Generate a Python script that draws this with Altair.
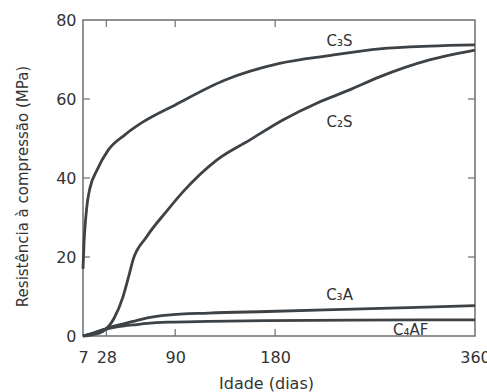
import altair as alt
import pandas as pd

# --- data ---
c3s_days = [7, 8, 9.5, 11, 13.3, 19.6, 29.5, 45, 60, 90, 135, 184, 229, 274, 319, 360]
c3s_vals = [17, 24, 30, 34, 37.5, 42, 47, 51, 54, 58.5, 64.8, 69, 71, 72.7, 73.4, 73.7]

c2s_days = [7, 15, 25, 35, 43, 49, 52, 64, 82, 97, 127.7, 157, 187, 218, 247, 274, 319, 360]
c2s_vals = [0, 0.3, 1.2, 4.5, 9.9, 16, 19.2, 25, 31.5, 36.5, 44.6, 49.6, 54.7, 59, 62.3, 65.6, 69.9, 72.4]

c3a_days = [7, 15, 25, 35, 45, 52, 65, 83, 120, 173, 250, 300, 360]
c3a_vals = [0, 0.6, 1.6, 2.5, 3.2, 3.7, 4.6, 5.3, 5.8, 6.2, 6.8, 7.2, 7.7]

c4af_days = [7, 15, 25, 35, 45, 52, 65, 83, 120, 173, 250, 360]
c4af_vals = [0, 0.6, 1.5, 2.2, 2.6, 2.8, 3.2, 3.5, 3.7, 3.9, 4.0, 4.1]

series_names = ["C3S", "C2S", "C3A", "C4AF"]

label_texts = ["C₃S", "C₂S", "C₃A", "C₄AF"]
label_days = [238, 238, 238, 302]
label_vals = [74.6, 54.2, 10.3, 1.5]

x_ticks = [7, 28, 90, 180, 360]
y_ticks = [0, 20, 40, 60, 80]
x_inner_ticks = [28, 90, 180]
y_inner_ticks = [20, 40, 60]

rows = []
for name, ds, vs in zip(series_names,
                        [c3s_days, c2s_days, c3a_days, c4af_days],
                        [c3s_vals, c2s_vals, c3a_vals, c4af_vals]):
    for d, v in zip(ds, vs):
        rows.append({"serie": name, "dia": d, "valor": v})
df = pd.DataFrame(rows)

labels_df = pd.DataFrame({"dia": label_days, "valor": label_vals, "txt": label_texts})
xt_df = pd.DataFrame({"dia": x_inner_ticks})
yt_df = pd.DataFrame({"valor": y_inner_ticks})

W, H = 392, 316
FONT = "DejaVu Sans"
TXT = "#333333"
LINE = "#3d4246"
FRAME = "#6e6e6e"

xscale = alt.Scale(domain=[7, 360], nice=False, zero=False)
yscale = alt.Scale(domain=[0, 80], nice=False)

xaxis = alt.Axis(values=x_ticks, title="Idade (dias)", ticks=False, domain=False, grid=False,
                 labelPadding=13, labelFontSize=16, labelFont=FONT, labelColor=TXT,
                 titleFont=FONT, titleFontSize=16, titleFontWeight="normal", titleColor=TXT,
                 titleX=183, titleY=52, titleBaseline="alphabetic", labelFlush=False)
yaxis = alt.Axis(values=y_ticks, title="Resistência à compressão (MPa)", ticks=False, domain=False,
                 grid=False, labelPadding=7, labelFontSize=16, labelFont=FONT, labelColor=TXT,
                 titleFont=FONT, titleFontSize=15, titleFontWeight="normal", titleColor=TXT,
                 titleX=-61, titleY=166, titleBaseline="middle", titleAngle=-90, labelFlush=False)

lines = alt.Chart(df).mark_line(color=LINE, strokeWidth=2.8, interpolate="monotone").encode(
    x=alt.X("dia:Q", scale=xscale, axis=xaxis),
    y=alt.Y("valor:Q", scale=yscale, axis=yaxis),
    detail="serie:N",
)

texts = alt.Chart(labels_df).mark_text(font=FONT, fontSize=15, color=TXT).encode(
    x=alt.X("dia:Q", scale=xscale),
    y=alt.Y("valor:Q", scale=yscale),
    text="txt:N",
)

tick_len = 7
bottom_ticks = alt.Chart(xt_df).mark_rule(color=FRAME, strokeWidth=1.2).encode(
    x=alt.X("dia:Q", scale=xscale), y=alt.value(H), y2=alt.value(H - tick_len))
top_ticks = alt.Chart(xt_df).mark_rule(color=FRAME, strokeWidth=1.2).encode(
    x=alt.X("dia:Q", scale=xscale), y=alt.value(0), y2=alt.value(tick_len))
left_ticks = alt.Chart(yt_df).mark_rule(color=FRAME, strokeWidth=1.2).encode(
    y=alt.Y("valor:Q", scale=yscale), x=alt.value(0), x2=alt.value(tick_len))
right_ticks = alt.Chart(yt_df).mark_rule(color=FRAME, strokeWidth=1.2).encode(
    y=alt.Y("valor:Q", scale=yscale), x=alt.value(W), x2=alt.value(W - tick_len))

chart = alt.layer(bottom_ticks, top_ticks, left_ticks, right_ticks, lines, texts).properties(
    width=W, height=H,
    autosize=alt.AutoSizeParams(type="none"),
    padding={"left": 83, "top": 20, "right": 12, "bottom": 56},
    background="white",
).configure_view(stroke=FRAME, strokeWidth=1.5)

chart.save("out.html", embed_options={"renderer": "svg", "actions": False})
